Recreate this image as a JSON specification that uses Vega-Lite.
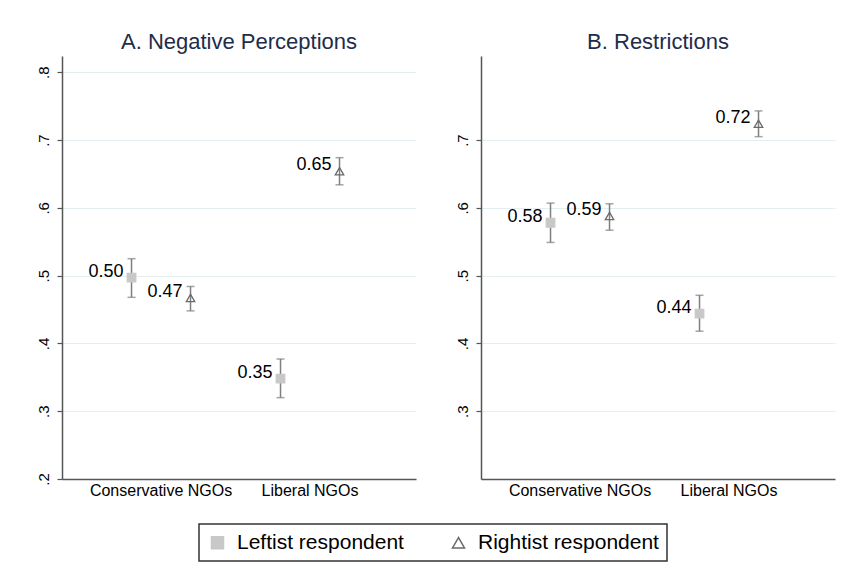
{
  "$schema": "https://vega.github.io/schema/vega-lite/v6.json",
  "background": "white",
  "padding": {"left": 36, "top": 31, "right": 5, "bottom": 5},
  "data": {
    "values": [
      {"panel": "A", "ngo": "Conservative NGOs", "resp": "Leftist respondent", "mean": 0.497, "lo": 0.468, "hi": 0.525},
      {"panel": "A", "ngo": "Conservative NGOs", "resp": "Rightist respondent", "mean": 0.467, "lo": 0.448, "hi": 0.484},
      {"panel": "A", "ngo": "Liberal NGOs", "resp": "Leftist respondent", "mean": 0.348, "lo": 0.320, "hi": 0.377},
      {"panel": "A", "ngo": "Liberal NGOs", "resp": "Rightist respondent", "mean": 0.654, "lo": 0.634, "hi": 0.674},
      {"panel": "B", "ngo": "Conservative NGOs", "resp": "Leftist respondent", "mean": 0.578, "lo": 0.549, "hi": 0.607},
      {"panel": "B", "ngo": "Conservative NGOs", "resp": "Rightist respondent", "mean": 0.588, "lo": 0.567, "hi": 0.606},
      {"panel": "B", "ngo": "Liberal NGOs", "resp": "Leftist respondent", "mean": 0.444, "lo": 0.418, "hi": 0.471},
      {"panel": "B", "ngo": "Liberal NGOs", "resp": "Rightist respondent", "mean": 0.724, "lo": 0.705, "hi": 0.743}
    ]
  },
  "spacing": 39,
  "hconcat": [
    {
      "title": "A. Negative Perceptions",
      "width": 354,
      "height": 423,
      "transform": [{"filter": "datum.panel == 'A'"}],
      "encoding": {
        "x": {"field": "ngo", "type": "nominal", "title": null, "sort": ["Conservative NGOs", "Liberal NGOs"],
              "scale": {"paddingInner": 0.208, "paddingOuter": 0.292, "align": 0.46}},
        "xOffset": {"field": "resp", "type": "nominal", "sort": ["Leftist respondent", "Rightist respondent"],
                    "scale": {"paddingInner": 0, "paddingOuter": 0}}
      },
      "layer": [
        {
          "mark": {"type": "rule", "color": "#7f7f7f", "strokeWidth": 1.5},
          "encoding": {
            "y": {"field": "lo", "type": "quantitative", "title": null,
                  "scale": {"domain": [0.2, 0.824], "nice": false, "zero": false},
                  "axis": {"values": [0.2, 0.3, 0.4, 0.5, 0.6, 0.7, 0.8]}},
            "y2": {"field": "hi"}
          }
        },
        {
          "mark": {"type": "tick", "color": "#7f7f7f", "size": 8, "thickness": 1.5, "orient": "horizontal"},
          "encoding": {"y": {"field": "lo", "type": "quantitative", "title": null}}
        },
        {
          "mark": {"type": "tick", "color": "#7f7f7f", "size": 8, "thickness": 1.5, "orient": "horizontal"},
          "encoding": {"y": {"field": "hi", "type": "quantitative", "title": null}}
        },
        {
          "mark": {"type": "point", "size": 72, "strokeWidth": 1.3, "opacity": 1},
          "encoding": {
            "y": {"field": "mean", "type": "quantitative", "title": null},
            "shape": {"field": "resp", "type": "nominal", "title": null, "scale": {"range": ["square", "triangle-up"]}},
            "fill": {"field": "resp", "type": "nominal", "title": null, "scale": {"range": ["#c8c8c8", "transparent"]}},
            "stroke": {"field": "resp", "type": "nominal", "title": null, "scale": {"range": ["#c8c8c8", "#6a6a6a"]}}
          }
        },
        {
          "mark": {"type": "text", "align": "right", "baseline": "middle", "dx": -8, "dy": -6, "fontSize": 18, "color": "#000000"},
          "encoding": {
            "y": {"field": "mean", "type": "quantitative", "title": null},
            "text": {"field": "mean", "type": "quantitative", "format": ".2f"}
          }
        }
      ]
    },
    {
      "title": "B. Restrictions",
      "width": 354,
      "height": 423,
      "transform": [{"filter": "datum.panel == 'B'"}],
      "encoding": {
        "x": {"field": "ngo", "type": "nominal", "title": null, "sort": ["Conservative NGOs", "Liberal NGOs"],
              "scale": {"paddingInner": 0.208, "paddingOuter": 0.292, "align": 0.46}},
        "xOffset": {"field": "resp", "type": "nominal", "sort": ["Leftist respondent", "Rightist respondent"],
                    "scale": {"paddingInner": 0, "paddingOuter": 0}}
      },
      "layer": [
        {
          "mark": {"type": "rule", "color": "#7f7f7f", "strokeWidth": 1.5},
          "encoding": {
            "y": {"field": "lo", "type": "quantitative", "title": null,
                  "scale": {"domain": [0.2, 0.824], "nice": false, "zero": false},
                  "axis": {"values": [0.3, 0.4, 0.5, 0.6, 0.7]}},
            "y2": {"field": "hi"}
          }
        },
        {
          "mark": {"type": "tick", "color": "#7f7f7f", "size": 8, "thickness": 1.5, "orient": "horizontal"},
          "encoding": {"y": {"field": "lo", "type": "quantitative", "title": null}}
        },
        {
          "mark": {"type": "tick", "color": "#7f7f7f", "size": 8, "thickness": 1.5, "orient": "horizontal"},
          "encoding": {"y": {"field": "hi", "type": "quantitative", "title": null}}
        },
        {
          "mark": {"type": "point", "size": 72, "strokeWidth": 1.3, "opacity": 1},
          "encoding": {
            "y": {"field": "mean", "type": "quantitative", "title": null},
            "shape": {"field": "resp", "type": "nominal", "title": null, "scale": {"range": ["square", "triangle-up"]}},
            "fill": {"field": "resp", "type": "nominal", "title": null, "scale": {"range": ["#c8c8c8", "transparent"]}},
            "stroke": {"field": "resp", "type": "nominal", "title": null, "scale": {"range": ["#c8c8c8", "#6a6a6a"]}}
          }
        },
        {
          "mark": {"type": "text", "align": "right", "baseline": "middle", "dx": -8, "dy": -6, "fontSize": 18, "color": "#000000"},
          "encoding": {
            "y": {"field": "mean", "type": "quantitative", "title": null},
            "text": {"field": "mean", "type": "quantitative", "format": ".2f"}
          }
        }
      ]
    }
  ],
  "resolve": {
    "scale": {"x": "independent", "y": "independent", "shape": "shared", "fill": "shared", "stroke": "shared"},
    "legend": {"shape": "shared", "fill": "shared", "stroke": "shared"}
  },
  "config": {
    "font": "Liberation Sans",
    "view": {"stroke": null},
    "title": {"fontSize": 22, "fontWeight": "normal", "color": "#1e2d4a", "offset": 2},
    "axis": {"domainColor": "#555555", "domainWidth": 1.5, "labelColor": "#000000", "tickColor": "#555555"},
    "axisX": {"labelAngle": 0, "labelFontSize": 16, "ticks": false, "labelPadding": 3, "grid": false},
    "axisY": {"labelAngle": 270, "labelFontSize": 15, "tickSize": 5, "tickWidth": 1.2, "labelPadding": 6,
              "grid": true, "gridColor": "#e4eef0", "gridWidth": 1,
              "labelExpr": "replace(format(datum.value, '.1f'), '0.', '.')",
              "minExtent": 25, "maxExtent": 25},
    "legend": {
      "orient": "none", "legendX": 137, "legendY": 468, "direction": "horizontal",
      "strokeColor": "#333333", "strokeWidth": 1.5, "padding": 8, "labelFontSize": 21, "labelColor": "#000000",
      "labelLimit": 0, "symbolSize": 144, "symbolStrokeWidth": 1.5, "labelOffset": 9, "columnPadding": 44,
      "cornerRadius": 0
    }
  }
}
